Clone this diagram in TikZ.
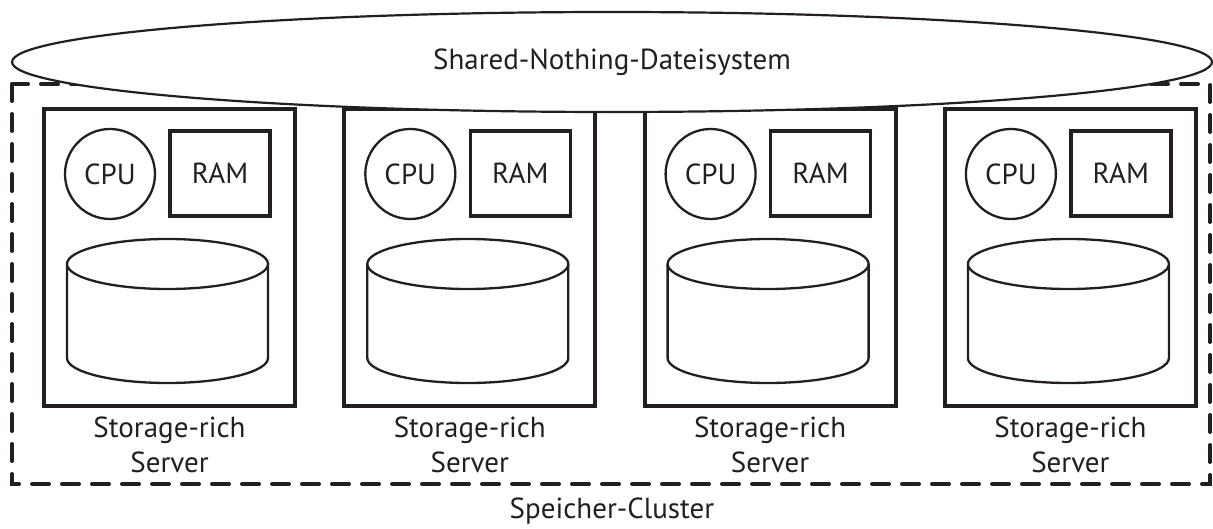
\documentclass[tikz,border=0pt]{standalone}
\usepackage{fontspec}
\setmainfont{PT Sans}
\usetikzlibrary{shapes.geometric,calc}
\definecolor{ink}{HTML}{231F20}
\tikzset{
  every node/.style={text=ink, font=\fontsize{29}{35}\selectfont},
  server/.style={draw=ink, line width=4pt, minimum width=251pt, minimum height=297pt, inner sep=0pt},
  cpu/.style={circle, draw=ink, line width=2.3pt, minimum size=90pt, inner sep=0pt},
  ram/.style={draw=ink, line width=3.6pt, minimum width=100pt, minimum height=85pt, inner sep=0pt},
  disk/.style={draw=ink, line width=2.3pt, fill=white},
  caption/.style={align=center, inner sep=0pt},
  cluster/.style={draw=ink, line width=4pt, line cap=round, dash pattern=on 17pt off 13pt},
  fsring/.style={ellipse, draw=ink, fill=white, line width=2.2pt, minimum width=1200pt, minimum height=100pt, inner sep=0pt}
}
\begin{document}
\begin{tikzpicture}[x=1pt, y=-1pt]
\useasboundingbox (0,0) rectangle (1213,529);
% cluster boundary
\draw[cluster] (12,84) rectangle (1210,484);
\node (cl) at (612,511) {Speicher-Cluster};
% servers
\foreach \i in {0,1,2,3}{
  \pgfmathsetmacro{\xo}{42+300.3*\i}
  \node[server, anchor=north west] (s\i) at (\xo,107) {};
  \node[cpu] (c\i) at (\xo+68,174) {CPU};
  \node[ram] (r\i) at (\xo+178,173.5) {RAM};
  % disk drum
  \draw[disk] (\xo+25,264) -- (\xo+25,358)
     arc[start angle=180, end angle=360, x radius=100.5pt, y radius=25pt]
     -- (\xo+226,264);
  \draw[disk] (\xo+125.5,264) ellipse[x radius=100.5pt, y radius=25pt];
  \node[caption, anchor=north] (t\i) at ($(s\i.south)+(0,9)$) {Storage-rich\\Server};
}
% shared file system on top
\node[fsring] (fs) at (612,62) {Shared-Nothing-Dateisystem};
\end{tikzpicture}
\end{document}
